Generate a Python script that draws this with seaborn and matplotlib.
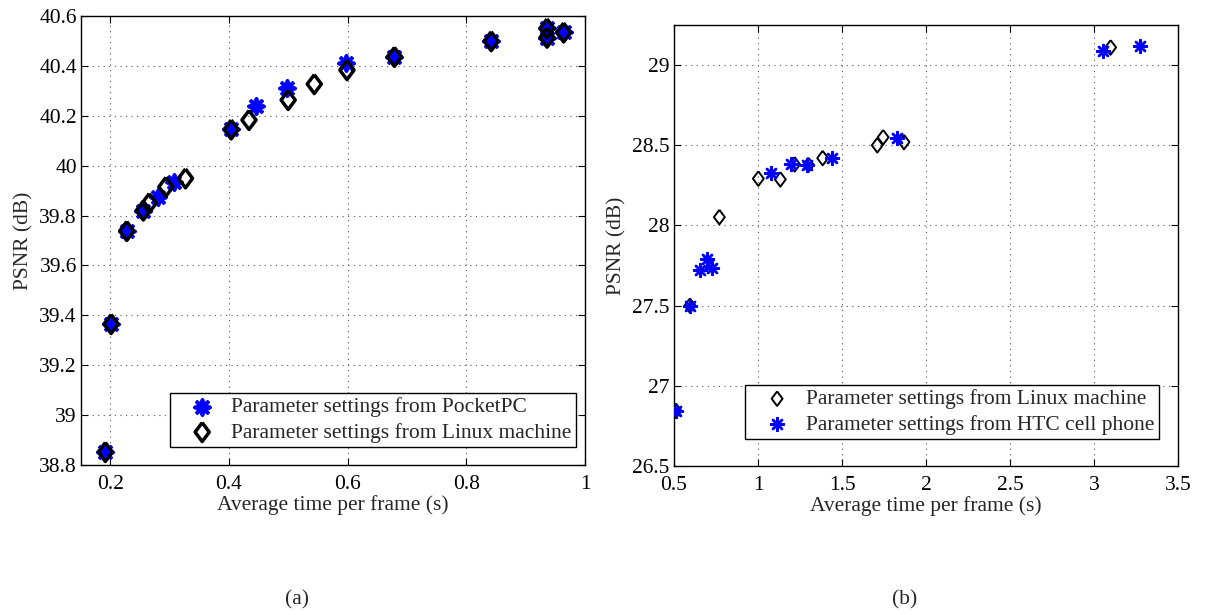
import matplotlib
matplotlib.use("Agg")
import matplotlib.pyplot as plt
import seaborn as sns
import numpy as np

sns.set_theme(style="ticks")
plt.rcParams['font.family'] = ['Liberation Serif', 'DejaVu Serif']
plt.rcParams['mathtext.fontset'] = 'stix'

# ---------------- data (a) ----------------
pocket_x = [0.192, 0.2017, 0.228, 0.256, 0.280, 0.307, 0.404, 0.446, 0.498, 0.598,
            0.679, 0.842, 0.936, 0.936, 0.964]
pocket_y = [38.852, 39.365, 39.738, 39.82, 39.873, 39.935, 40.145, 40.24, 40.312, 40.41,
            40.436, 40.499, 40.55, 40.513, 40.534]
linuxA_x = [0.192, 0.2017, 0.228, 0.256, 0.266, 0.294, 0.327, 0.404, 0.434, 0.500,
            0.544, 0.599, 0.679, 0.842, 0.936, 0.936, 0.964]
linuxA_y = [38.852, 39.365, 39.738, 39.82, 39.85, 39.915, 39.949, 40.145, 40.183, 40.263,
            40.327, 40.383, 40.436, 40.499, 40.55, 40.513, 40.534]

# ---------------- data (b) ----------------
linuxB_x = [0.512, 0.595, 0.770, 1.002, 1.133, 1.218, 1.300, 1.385, 1.710, 1.745, 1.869, 3.099]
linuxB_y = [26.844, 27.50, 28.052, 28.292, 28.287, 28.381, 28.377, 28.42, 28.50, 28.55, 28.52, 29.11]
htc_x = [0.512, 0.595, 0.655, 0.695, 0.726, 1.075, 1.196, 1.290, 1.439, 1.827, 3.052, 3.274]
htc_y = [26.844, 27.50, 27.72, 27.79, 27.733, 28.329, 28.381, 28.38, 28.42, 28.545, 29.085, 29.12]

xticksA = [0.2, 0.4, 0.6, 0.8, 1.0]
xtlA = ['0.2', '0.4', '0.6', '0.8', '1']
yticksA = [38.8, 39.0, 39.2, 39.4, 39.6, 39.8, 40.0, 40.2, 40.4, 40.6]
ytlA = ['38.8', '39', '39.2', '39.4', '39.6', '39.8', '40', '40.2', '40.4', '40.6']
xticksB = [0.5, 1.0, 1.5, 2.0, 2.5, 3.0, 3.5]
xtlB = ['0.5', '1', '1.5', '2', '2.5', '3', '3.5']
yticksB = [26.5, 27.0, 27.5, 28.0, 28.5, 29.0]
ytlB = ['26.5', '27', '27.5', '28', '28.5', '29']

diamond = [(0, 1), (0.75, 0), (0, -1), (-0.75, 0), (0, 1)]
star = (8, 2, 0)
FS = 15.5

fig = plt.figure(figsize=(12.05, 6.15), dpi=100)
axA = fig.add_axes([81/1205, 1-465/615, 504/1205, 449/615])
axB = fig.add_axes([674/1205, 1-466/615, 504/1205, 441/615])

def style(ax, xt, xtl, yt, ytl, xlim, ylim):
    ax.set_xlim(*xlim)
    ax.set_ylim(*ylim)
    ax.set_xticks(xt)
    ax.set_xticklabels(xtl)
    ax.set_yticks(yt)
    ax.set_yticklabels(ytl)
    ax.grid(True, linestyle=(0, (1, 4)), color='0.35', linewidth=0.8)
    ax.tick_params(direction='in', top=True, right=True, length=5, width=0.8,
                   labelsize=FS, colors='black')
    ax.tick_params(axis='x', pad=7)
    ax.tick_params(axis='y', pad=3)
    for s in ax.spines.values():
        s.set_color('black')
        s.set_linewidth(1.0)
    ax.set_axisbelow(True)
    ax.set_xlabel('Average time per frame (s)', fontsize=FS, labelpad=1)
    ax.set_ylabel('PSNR (dB)', fontsize=FS, labelpad=4)

legkw = dict(loc='lower right', fontsize=FS, fancybox=False, edgecolor='black',
             framealpha=1, borderpad=0.2, labelspacing=0.25, handlelength=2.6,
             handletextpad=0.05, borderaxespad=0)

# (a)
sns.scatterplot(x=pocket_x, y=pocket_y, ax=axA, marker=star, s=110, color='blue',
                linewidth=2.8, label='Parameter settings from PocketPC', zorder=3)
sns.scatterplot(x=linuxA_x, y=linuxA_y, ax=axA, marker=diamond, s=185, color='black',
                facecolors='none', edgecolor='black', linewidth=2.5,
                label='Parameter settings from Linux machine', zorder=4)
style(axA, xticksA, xtlA, yticksA, ytlA, (0.151, 1.0), (38.8, 40.6))
legA = axA.legend(bbox_to_anchor=(0.982, 0.040), **legkw)
legA.get_frame().set_linewidth(1.0)

# (b)
sns.scatterplot(x=linuxB_x, y=linuxB_y, ax=axB, marker=diamond, s=110, color='black',
                facecolors='none', edgecolor='black', linewidth=1.4,
                label='Parameter settings from Linux machine', zorder=3)
sns.scatterplot(x=htc_x, y=htc_y, ax=axB, marker=star, s=85, color='blue',
                linewidth=1.8, label='Parameter settings from HTC cell phone', zorder=4)
style(axB, xticksB, xtlB, yticksB, ytlB, (0.5, 3.5), (26.5, 29.25))
legB = axB.legend(bbox_to_anchor=(0.962, 0.061), **legkw)
legB.get_frame().set_linewidth(1.0)

fig.text(297/1205, 1-600/615, '(a)', fontsize=FS, ha='center', va='center')
fig.text(905/1205, 1-600/615, '(b)', fontsize=FS, ha='center', va='center')

fig.savefig('out.png', dpi=100)
